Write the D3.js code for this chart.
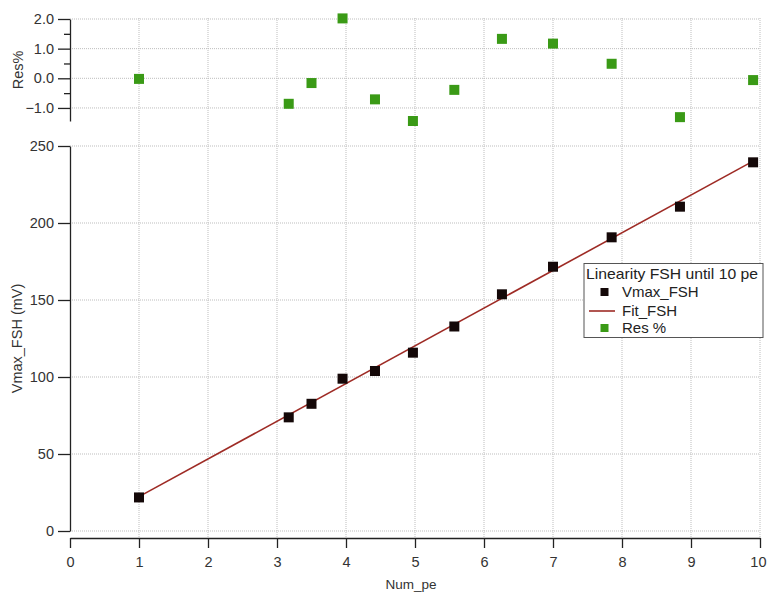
<!DOCTYPE html>
<html><head><meta charset="utf-8">
<script src="https://cdn.jsdelivr.net/npm/d3@7"></script>
<style>
body{margin:0;background:#fff;}
svg{display:block;font-family:"Liberation Sans",Arial,sans-serif;}
.grid line{stroke:#bdbdbd;stroke-width:1;stroke-dasharray:1,1;}
.axis path,.axis line{stroke:#222;stroke-width:1.3;}
.axis text{font-size:14.5px;fill:#333;font-family:"Liberation Sans",Arial,sans-serif;}
</style></head>
<body>
<svg id="c" width="767" height="594"></svg>
<script>
// ---- data ----
const numPe   = [1.00, 3.17, 3.50, 3.95, 4.42, 4.97, 5.57, 6.26, 7.00, 7.85, 8.84, 9.90];
const vmaxFSH = [21.8, 73.8, 82.6, 98.9, 103.9, 115.8, 132.8, 153.7, 171.6, 190.7, 210.6, 239.4];
const resPct  = [-0.02, -0.86, -0.16, 2.02, -0.71, -1.44, -0.39, 1.33, 1.17, 0.49, -1.31, -0.06];
const fitX    = [1.0, 9.9];
const fitY    = [22.3, 240.2];
const xTicks   = [0,1,2,3,4,5,6,7,8,9,10];
const yTicks   = [0,50,100,150,200,250];
const resTicks = [-1.0, 0.0, 1.0, 2.0];
const resMinor = [-0.5, 0.5, 1.5];
const legendTitle = "Linearity FSH until 10 pe";
const legendItems = ["Vmax_FSH", "Fit_FSH", "Res %"];

const svg = d3.select("#c");
const x  = d3.scaleLinear().domain([0,10]).range([70,760]);
const y  = d3.scaleLinear().domain([0,250]).range([531,146]);
const yr = d3.scaleLinear().domain([-1.44,2.0]).range([121,19]);

const green = "#3a9a16", black = "#140808", red = "#9e2b25";

// grid
const g = svg.append("g").attr("class","grid");
g.selectAll(".vx").data(xTicks.filter(d=>d>0)).join("line")
  .attr("x1",d=>x(d)).attr("x2",d=>x(d)).attr("y1",18).attr("y2",538);
g.selectAll(".hy").data(yTicks).join("line")
  .attr("x1",70).attr("x2",760).attr("y1",d=>y(d)).attr("y2",d=>y(d));
g.selectAll(".hr").data(resTicks).join("line")
  .attr("x1",70).attr("x2",760).attr("y1",d=>yr(d)).attr("y2",d=>yr(d));

// axes
const ax = svg.append("g").attr("class","axis").attr("transform","translate(0,538)")
  .call(d3.axisBottom(x).tickValues(xTicks).tickSize(10).tickSizeOuter(0).tickPadding(7).tickFormat(d3.format("d")));
const ay = svg.append("g").attr("class","axis").attr("transform","translate(70,0)")
  .call(d3.axisLeft(y).tickValues(yTicks).tickSize(12).tickSizeOuter(0).tickPadding(4).tickFormat(d3.format("d")));
const ar = svg.append("g").attr("class","axis").attr("transform","translate(70,0)")
  .call(d3.axisLeft(yr).tickValues(resTicks).tickSize(12).tickSizeOuter(0).tickPadding(4).tickFormat(d3.format(".1f")));
svg.append("g").attr("class","axis").attr("transform","translate(70,0)")
  .call(d3.axisLeft(yr).tickValues(resMinor).tickSize(6).tickSizeOuter(0).tickFormat(""))
  .select(".domain").remove();
ax.selectAll("text").attr("dy","0.85em");
// keep the last label inside the window
ax.selectAll(".tick").filter(d=>d===10).select("text").attr("text-anchor","end").attr("x",6);

// axis titles
svg.append("text").attr("x",x(5)-4).attr("y",589).attr("text-anchor","middle")
  .attr("font-size",13.5).attr("fill","#333").text("Num_pe");
svg.append("text").attr("transform",`translate(22,${(146+531)/2}) rotate(-90)`).attr("text-anchor","middle")
  .attr("font-size",14.5).attr("fill","#333").text("Vmax_FSH (mV)");
svg.append("text").attr("transform",`translate(23,${(19+121)/2}) rotate(-90)`).attr("text-anchor","middle")
  .attr("font-size",14.5).attr("fill","#333").text("Res%");

// fit line
svg.append("path").datum(fitX.map((d,i)=>[d,fitY[i]]))
  .attr("d",d3.line().x(d=>x(d[0])).y(d=>y(d[1])))
  .attr("fill","none").attr("stroke",red).attr("stroke-width",1.6);

// markers
const s = 10;
svg.selectAll(".pv").data(numPe).join("rect")
  .attr("x",(d)=>x(d)-s/2).attr("y",(d,i)=>y(vmaxFSH[i])-s/2).attr("width",s).attr("height",s).attr("fill",black);
svg.selectAll(".pr").data(numPe).join("rect")
  .attr("x",(d)=>x(d)-s/2).attr("y",(d,i)=>yr(resPct[i])-s/2).attr("width",s).attr("height",s).attr("fill",green);

// legend
const lg = svg.append("g");
lg.append("rect").attr("x",584).attr("y",263.5).attr("width",179).attr("height",74)
  .attr("fill","#fff").attr("stroke","#555").attr("stroke-width",1);
lg.append("text").attr("x",586).attr("y",278.5).attr("font-size",15).attr("fill","#222")
  .attr("textLength",172).attr("lengthAdjust","spacingAndGlyphs").text(legendTitle);
const rowsY = [292,311,328];
legendItems.forEach((t,i)=>{
  lg.append("text").attr("x",622).attr("y",rowsY[i]+4.8).attr("font-size",15).attr("fill","#222").text(t);
});
lg.append("rect").attr("x",600.5).attr("y",rowsY[0]-4).attr("width",8).attr("height",8).attr("fill",black);
lg.append("line").attr("x1",589).attr("x2",615).attr("y1",rowsY[1]).attr("y2",rowsY[1]).attr("stroke",red).attr("stroke-width",1.6);
lg.append("rect").attr("x",600.5).attr("y",rowsY[2]-4).attr("width",8).attr("height",8).attr("fill",green);
</script>
</body></html>
